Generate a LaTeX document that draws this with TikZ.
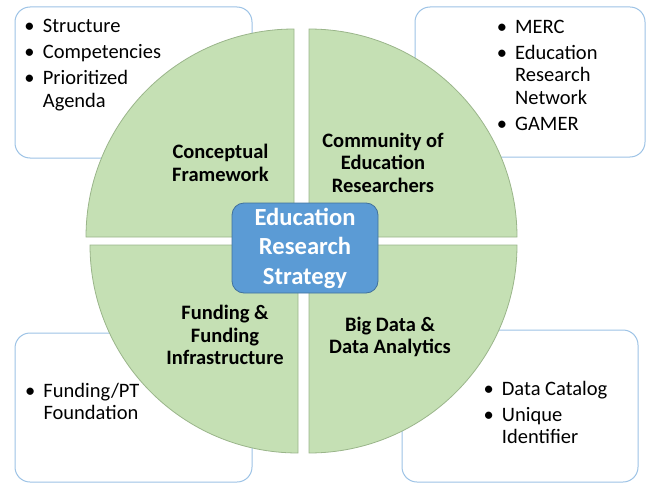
\documentclass[tikz,border=0pt]{standalone}
\usepackage{fontspec}
\setmainfont{Carlito}
\definecolor{leaf}{HTML}{C5E0B4}
\definecolor{leafline}{HTML}{9AB58A}
\definecolor{paleblue}{HTML}{9DC3E6}
\definecolor{corefill}{HTML}{5B9BD5}
\definecolor{coreline}{HTML}{41719C}
% bullet centred on the left edge, text starting a fixed gap to the right
\newcommand\blt{\makebox[0pt]{\textbullet}\hspace*{13.3pt}}
\newcommand\cnt{\hspace*{13.3pt}}
\begin{document}
\begin{tikzpicture}[x=1pt,y=1pt,
  infobox/.style={draw=paleblue,line width=1pt,fill=white,rounded corners=15pt,inner sep=0pt},
  quarter/.style={fill=leaf,draw=leafline,line width=0.8pt},
  listtext/.style={inner sep=0pt,anchor=base west,font=\fontsize{20.5}{22.5}\selectfont},
  qlabel/.style={inner sep=0pt,anchor=base,font=\fontsize{20.5}{22.7}\selectfont\bfseries},
  core/.style={draw=coreline,line width=0.8pt,fill=corefill,rounded corners=12pt,
    text=white,align=center,inner sep=0pt,minimum width=146pt,minimum height=90pt,
    font=\fontsize{24.6}{29.5}\selectfont\bfseries}]
\useasboundingbox (0,0) rectangle (647,483);

% outer information boxes
\node[infobox,minimum width=237pt,minimum height=151pt] (tlbox) at (133.5,400.5) {};
\node[infobox,minimum width=230pt,minimum height=150pt] (trbox) at (530,401) {};
\node[infobox,minimum width=237pt,minimum height=149pt] (blbox) at (133.5,75.5) {};
\node[infobox,minimum width=236pt,minimum height=152pt] (brbox) at (520,77) {};

% four quarter discs
\draw[quarter] (294,246) -- ++(-208,0) arc[start angle=180,end angle=90,radius=208] -- cycle;
\draw[quarter] (309,246) -- ++(0,208) arc[start angle=90,end angle=0,radius=208] -- cycle;
\draw[quarter] (298,238) -- ++(-208,0) arc[start angle=180,end angle=270,radius=208] -- cycle;
\draw[quarter] (309,238) -- ++(208,0) arc[start angle=0,end angle=-90,radius=208] -- cycle;

% centre box
\node[core] (strategy) at (305,235) {Education\\Research\\Strategy};

% quarter labels
\node[qlabel] (framework) at (220.5,324.7) {\begin{tabular}[t]{@{}c@{}}Conceptual\\Framework\end{tabular}};
\node[qlabel] (community) at (383,336) {\begin{tabular}[t]{@{}c@{}}Community of\\Education\\Researchers\end{tabular}};
\node[qlabel] (funding) at (225,163.5) {\begin{tabular}[t]{@{}c@{}}Funding \&\\Funding\\Infrastructure\end{tabular}};
\node[qlabel] (bigdata) at (390,151.8) {\begin{tabular}[t]{@{}c@{}}Big Data \&\\Data Analytics\end{tabular}};

% bullet lists
\node[listtext] (tllist) at (29.4,450.3) {\begin{tabular}[t]{@{}l@{}}\blt Structure\\[3.5pt]\blt Competencies\\[3.5pt]\blt Prioritized\\\cnt Agenda\end{tabular}};
\node[listtext] (trlist) at (501.7,449.7) {\begin{tabular}[t]{@{}l@{}}\blt MERC\\[3.5pt]\blt Education\\\cnt Research\\\cnt Network\\[3.5pt]\blt GAMER\end{tabular}};
\node[listtext] (bllist) at (30,85.7) {\begin{tabular}[t]{@{}l@{}}\blt Funding/PT\\\cnt Foundation\end{tabular}};
\node[listtext] (brlist) at (488.4,88) {\begin{tabular}[t]{@{}l@{}}\blt Data Catalog\\[3.5pt]\blt Unique\\\cnt Identifier\end{tabular}};
\end{tikzpicture}
\end{document}
